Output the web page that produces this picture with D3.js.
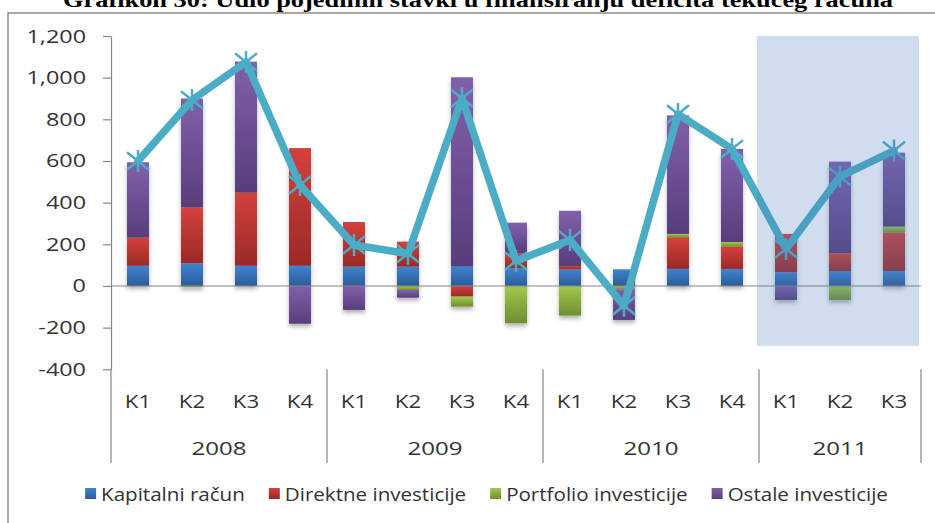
<!DOCTYPE html>
<html>
<head>
<meta charset="utf-8">
<script src="https://cdn.jsdelivr.net/npm/d3@7/dist/d3.min.js"></script>
<style>
  html, body { margin: 0; padding: 0; background: #fff; }
  svg { display: block; }
</style>
</head>
<body>
<svg id="chart" width="935" height="523"></svg>
<script>
// ---- data ----
const quarters = ["K1","K2","K3","K4","K1","K2","K3","K4","K1","K2","K3","K4","K1","K2","K3"];
const years = ["2008","2008","2008","2008","2009","2009","2009","2009","2010","2010","2010","2010","2011","2011","2011"];
const seriesNames = ["Kapitalni račun","Direktne investicije","Portfolio investicije","Ostale investicije"];
const kapitalni = [97,109,97,97, 93,93,93,85, 80,80,82,82, 66,72,72];
const direktne  = [135,268,351,565, 214,120,-51,72, 16,0,152,107, 184,85,184];
const portfolio = [0,-5,0,0, 0,-19,-48,-179, -142,-16,16,22, 0,-67,29];
const ostale    = [362,523,629,-181, -115,-37,909,147, 265,-147,569,447, -67,440,355];
const deficit   = [600,893,1075,485, 197,155,901,120, 221,-95,825,658, 178,525,650];
const yTicks = [-400,-200,0,200,400,600,800,1000,1200];
const titleText = "Grafikon 30: Udio pojedinih stavki u finansiranju deficita tekućeg računa";
const highlightYear = "2011";

// ---- setup ----
const svg = d3.select("#chart");
const plot = {left: 111, right: 921, top: 36, bottom: 369.3};
const colors = [
  ["#3F83CF", "#2C5B97"],
  ["#D4413C", "#992A27"],
  ["#A0C94D", "#6F8E2F"],
  ["#8260AC", "#583D7B"]
];
const lineColor = "#4BACC6";
const textColor = "#333333";
const axisColor = "#868686";
const font = "'Open Sans', 'Liberation Sans', sans-serif";
const fmt = v => d3.format(",")(v).replace("\u2212", "-");

const defs = svg.append("defs");
colors.forEach((c, i) => {
  const g = defs.append("linearGradient").attr("id", "grad" + i)
    .attr("x1", 0).attr("y1", 0).attr("x2", 0).attr("y2", 1);
  g.append("stop").attr("offset", "0%").attr("stop-color", c[0]);
  g.append("stop").attr("offset", "100%").attr("stop-color", c[1]);
});
const f = defs.append("filter").attr("id", "shadow")
  .attr("x", "-30%").attr("y", "-30%").attr("width", "160%").attr("height", "160%");
f.append("feDropShadow").attr("dx", 0).attr("dy", 3).attr("stdDeviation", 2)
  .attr("flood-color", "#000").attr("flood-opacity", 0.3);

// border
svg.append("rect").attr("x", 8).attr("y", 13).attr("width", 1000).attr("height", 600)
  .attr("fill", "none").attr("stroke", "#8a8a8a").attr("stroke-width", 1.5);

// title (partially cut off at top, as in the reference)
svg.append("text").attr("x", 478).attr("y", 7)
  .attr("text-anchor", "middle")
  .attr("font-family", "'Liberation Serif', 'Times New Roman', serif")
  .attr("font-weight", "bold").attr("font-size", 21)
  .attr("textLength", 830).attr("lengthAdjust", "spacingAndGlyphs")
  .attr("fill", "#000").text(titleText);

// scales
const idx = d3.range(quarters.length);
const x = d3.scaleBand().domain(idx).range([plot.left, plot.right])
  .paddingInner(0.593).paddingOuter(0.2965);
const step = x.step();
const y = d3.scaleLinear().domain([-400, 1200]).range([plot.bottom, plot.top]);

// stacked data
const rows = idx.map(i => ({i, s0: kapitalni[i], s1: direktne[i], s2: portfolio[i], s3: ostale[i]}));
const stack = d3.stack().keys(["s0","s1","s2","s3"]).offset(d3.stackOffsetDiverging);
const stacked = stack(rows);

// y axis
const yAxis = d3.axisLeft(y).tickValues(yTicks).tickFormat(fmt)
  .tickSize(8).tickSizeOuter(0).tickPadding(0);
const ya = svg.append("g").attr("transform", `translate(${plot.left},0)`).call(yAxis);
ya.select(".domain").attr("stroke", axisColor).attr("stroke-width", 1.2);
ya.selectAll(".tick line").attr("stroke", axisColor).attr("stroke-width", 1.2);
ya.selectAll(".tick text").remove();
ya.selectAll(".tick").append("text")
  .attr("transform", "translate(-25,6) scale(1.3,1)")
  .attr("text-anchor", "end").attr("font-family", font).attr("font-size", 18)
  .attr("fill", textColor).text(d => fmt(d));

// bars
const barG = svg.append("g").attr("filter", "url(#shadow)");
stacked.forEach((layer, si) => {
  barG.append("g").selectAll("rect").data(layer).join("rect")
    .attr("x", d => x(d.data.i))
    .attr("width", x.bandwidth())
    .attr("y", d => y(Math.max(d[0], d[1])))
    .attr("height", d => Math.abs(y(d[0]) - y(d[1])))
    .attr("fill", `url(#grad${si})`);
});

// zero line
svg.append("line").attr("x1", plot.left).attr("x2", plot.right)
  .attr("y1", y(0)).attr("y2", y(0)).attr("stroke", axisColor).attr("stroke-width", 1.2);

// line
const lineGen = d3.line().x(i => x(i) + x.bandwidth() / 2).y(i => y(deficit[i]));
svg.append("path").datum(idx).attr("d", lineGen)
  .attr("fill", "none").attr("stroke", lineColor).attr("stroke-width", 7.5)
  .attr("stroke-linejoin", "round").attr("stroke-linecap", "round");

// star markers
const mk = svg.append("g");
idx.forEach(i => {
  const cx = x(i) + x.bandwidth() / 2, cy = y(deficit[i]);
  const r = 11;
  const p = `M${cx - r},${cy - r * 0.8}L${cx + r},${cy + r * 0.8}M${cx - r},${cy + r * 0.8}L${cx + r},${cy - r * 0.8}M${cx},${cy - r}L${cx},${cy + r}`;
  mk.append("path").attr("d", p).attr("stroke", lineColor).attr("stroke-width", 2.5).attr("fill", "none");
});

// highlight overlay for 2011
const hiIdx = idx.filter(i => years[i] === highlightYear);
const hx0 = x(hiIdx[0]) - (step - x.bandwidth()) / 2 - 2;
const hx1 = x(hiIdx[hiIdx.length - 1]) + x.bandwidth() + (step - x.bandwidth()) / 2 - 2;
svg.append("rect").attr("x", hx0).attr("y", y(1200))
  .attr("width", hx1 - hx0).attr("height", y(-288) - y(1200))
  .attr("fill", "rgb(74,124,190)").attr("fill-opacity", 0.26);

// category axis: quarters
svg.append("g").selectAll("text").data(idx).join("text")
  .attr("transform", i => `translate(${x(i) + x.bandwidth() / 2},408) scale(1.2,1)`)
  .attr("text-anchor", "middle").attr("font-family", font).attr("font-size", 18.5)
  .attr("fill", textColor).text(i => quarters[i]);

// years
const yearList = Array.from(new Set(years));
const yearGroups = yearList.map(yr => {
  const ids = idx.filter(i => years[i] === yr);
  const a = x(ids[0]) - (step - x.bandwidth()) / 2;
  const b = x(ids[ids.length - 1]) + x.bandwidth() + (step - x.bandwidth()) / 2;
  return {yr, a, b};
});
svg.append("g").selectAll("text").data(yearGroups).join("text")
  .attr("transform", d => `translate(${(d.a + d.b) / 2},455) scale(1.3,1)`)
  .attr("text-anchor", "middle").attr("font-family", font).attr("font-size", 18.5)
  .attr("fill", textColor).text(d => d.yr);
const seps = [yearGroups[0].a].concat(yearGroups.map(d => d.b));
svg.append("g").selectAll("line").data(seps).join("line")
  .attr("x1", d => d).attr("x2", d => d).attr("y1", plot.bottom).attr("y2", 463)
  .attr("stroke", axisColor).attr("stroke-width", 1.2);

// legend
const lg = svg.append("g");
let lx = 0;
const legScale = 1.1;
seriesNames.forEach((name, i) => {
  const g = lg.append("g").attr("transform", `translate(${lx},0)`);
  g.append("rect").attr("x", 0).attr("y", -6).attr("width", 11).attr("height", 11)
    .attr("fill", `url(#grad${i})`);
  const t = g.append("text").attr("transform", `translate(16,6.5) scale(${legScale},1)`)
    .attr("font-family", font)
    .attr("font-size", 18.7).attr("fill", textColor).text(name);
  const w = t.node().getComputedTextLength() * legScale;
  lx += 16 + w + 24;
});
const totalW = lx - 24;
lg.attr("transform", `translate(${486.5 - totalW / 2},494)`);
</script>
</body>
</html>
